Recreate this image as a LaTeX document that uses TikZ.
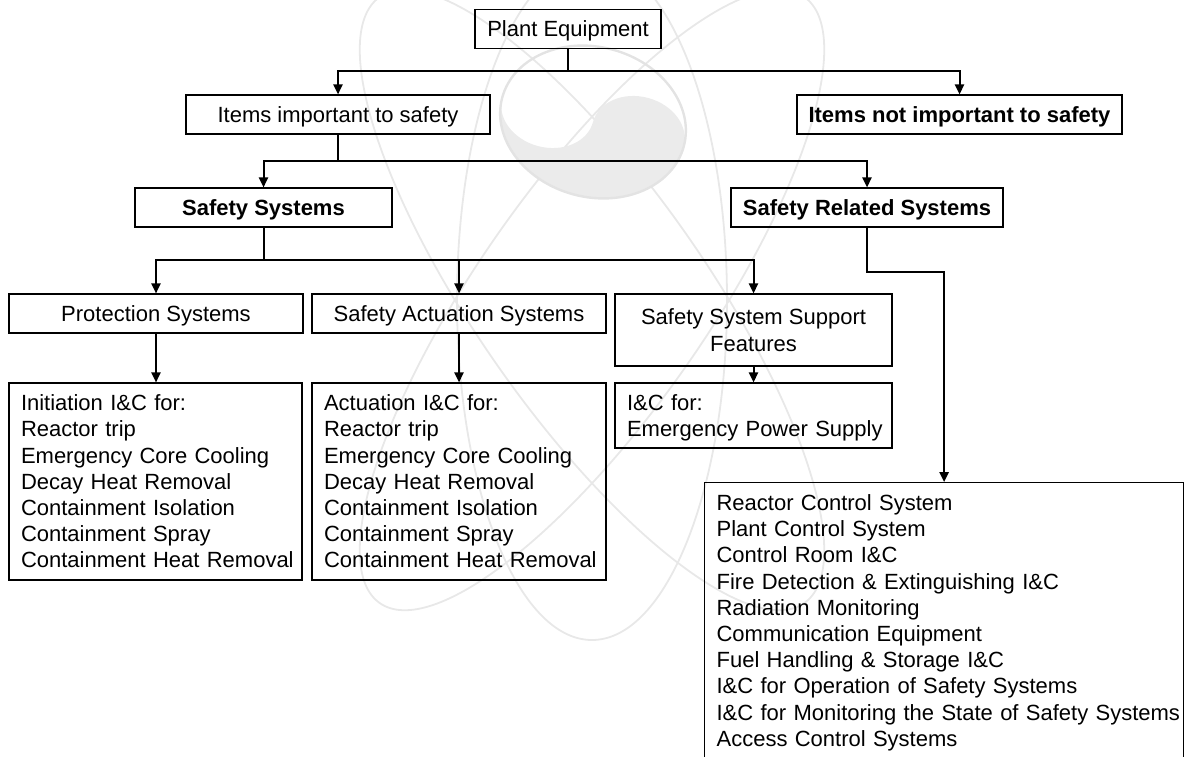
\documentclass[tikz,border=0pt]{standalone}
\usepackage{fontspec}
\setmainfont{Liberation Sans}
\usetikzlibrary{arrows.meta}
\begin{document}
\begin{tikzpicture}[x=0.5pt,y=-0.5pt,
  txt/.style={font=\fontsize{11}{13.1}\selectfont},
  box/.style={txt, draw=black, line width=0.6pt, inner sep=0pt, align=center, minimum height=19.5pt, text depth=0pt},
  bbox/.style={box, font=\fontsize{11}{13.1}\selectfont\bfseries},
  listbox/.style={txt, draw=black, line width=0.6pt, inner xsep=6pt, inner ysep=0pt, align=left},
  conn/.style={draw=black, line width=1pt},
  arr/.style={conn, -{Triangle[length=5pt,width=4.6pt]}},
  wm/.style={draw=black!9, line width=0.9pt}
]
\useasboundingbox (0,0) rectangle (1184,756);
\clip (0,0) rectangle (1184,756);

% faint watermark (atom logo with taeguk)
\draw[wm] (592,300) ellipse [x radius=135, y radius=340];
\draw[wm, rotate around={35:(592,300)}] (592,300) ellipse [x radius=115, y radius=370];
\draw[wm, rotate around={-35:(592,300)}] (592,300) ellipse [x radius=115, y radius=370];
\begin{scope}[shift={(593,122)}, rotate=-15]
  \fill[black!8] (-94,0) arc[start angle=180, end angle=0, x radius=47, y radius=37.5]
                         arc[start angle=180, end angle=360, x radius=47, y radius=37.5]
                         arc[start angle=0, end angle=180, x radius=94, y radius=75] -- cycle;
  \draw[draw=black!11, line width=1.2pt] (0,0) ellipse [x radius=94, y radius=75];
\end{scope}

% level 0
\node[box, minimum width=93pt] (plant) at (568,28.8) {Plant Equipment};
% level 1
\node[box, minimum width=152pt] (imp) at (338,114.5) {Items important to safety};
\node[bbox, minimum width=162.5pt] (notimp) at (959.5,114.5) {Items not important to safety};
% level 2
\node[bbox, minimum width=128.5pt] (ss) at (263.5,207.5) {Safety Systems};
\node[bbox, minimum width=136pt] (srs) at (867,207.5) {Safety Related Systems};
% level 3
\node[box, minimum width=147pt] (prot) at (156,313.5) {Protection Systems};
\node[box, minimum width=147pt] (sas) at (459,313.5) {Safety Actuation Systems};
\node[box, minimum width=138.5pt, minimum height=36pt] (sssf) at (753.5,330) {Safety System Support\\Features};
% level 4
\node[listbox, text width=134.5pt, minimum height=98.5pt] (init) at (155.5,481.5)
  {Initiation I\&C for:\\Reactor trip\\Emergency Core Cooling\\Decay Heat Removal\\Containment Isolation\\Containment Spray\\\mbox{Containment Heat Removal}};
\node[listbox, text width=135pt, minimum height=98.5pt] (act) at (459,481.5)
  {Actuation I\&C for:\\Reactor trip\\Emergency Core Cooling\\Decay Heat Removal\\Containment Isolation\\Containment Spray\\\mbox{Containment Heat Removal}};
\node[listbox, text width=126.5pt, minimum height=32.5pt, text depth=13.1pt] (icf) at (753.5,415.5)
  {I\&C for:\\\mbox{Emergency Power Supply}};
\node[listbox, inner ysep=6pt, text width=227.5pt, anchor=north west] (rel) at (704,482)
  {Reactor Control System\\Plant Control System\\Control Room I\&C\\Fire Detection \& Extinguishing I\&C\\Radiation Monitoring\\Communication Equipment\\Fuel Handling \& Storage I\&C\\I\&C for Operation of Safety Systems\\\mbox{I\&C for Monitoring the State of Safety Systems}\\Access Control Systems\\[20pt]};

% junctions
\coordinate (j1) at (568,71);
\coordinate (j2) at (338,161);
\coordinate (j3) at (263.5,260);
\coordinate (j4) at (867,272);

% connectors
\draw[arr] (plant.south) -- (j1) -| (imp.north);
\draw[arr] (j1) -| (notimp.north);
\draw[arr] (imp.south) -- (j2) -| (ss.north);
\draw[arr] (j2) -| (srs.north);
\draw[arr] (ss.south) -- (j3) -| (prot.north);
\draw[arr] (j3) -| (sas.north);
\draw[arr] (j3) -| (sssf.north);
\draw[arr] (prot.south) -- (prot.south |- init.north);
\draw[arr] (sas.south) -- (act.north);
\draw[arr] (sssf.south) -- (icf.north);
\draw[arr] (srs.south) -- (j4) -| (rel.north);
\end{tikzpicture}
\end{document}
